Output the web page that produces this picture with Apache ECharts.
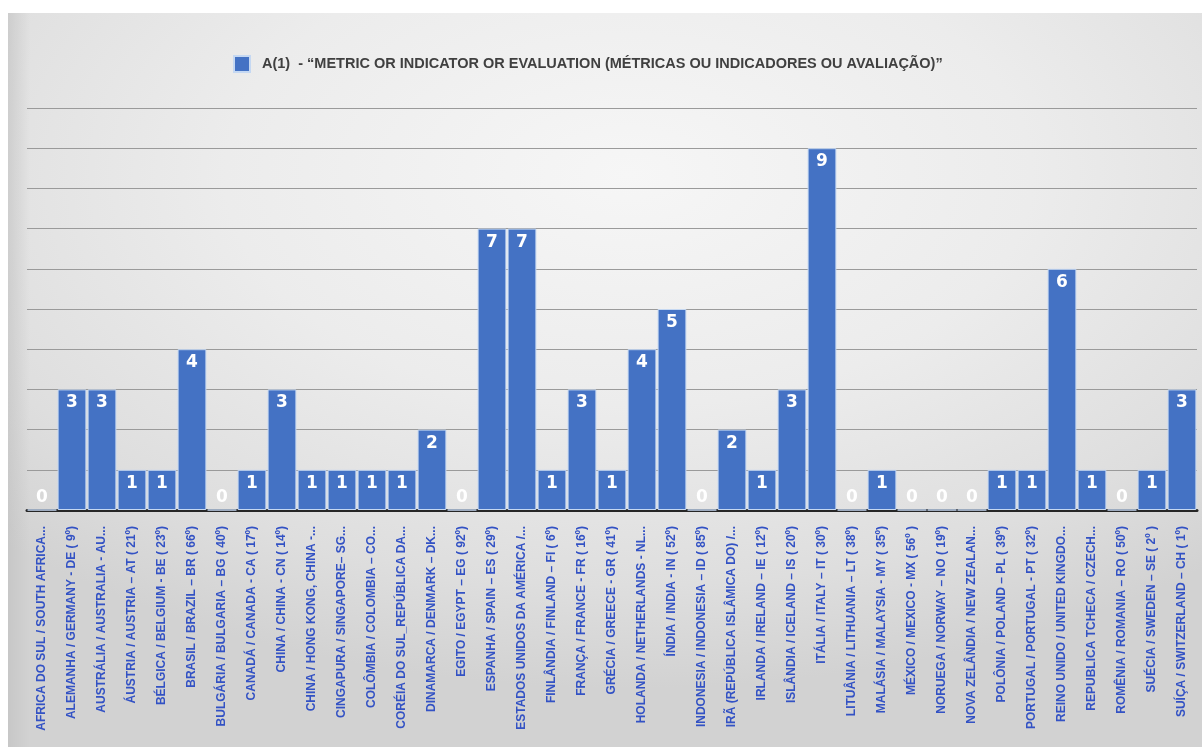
<!DOCTYPE html>
<html>
<head>
<meta charset="utf-8">
<script src="https://cdn.jsdelivr.net/npm/echarts@6/dist/echarts.min.js"></script>
<style>
  html, body { margin: 0; padding: 0; background: #ffffff; width: 1202px; height: 747px; overflow: hidden; }
  #panel {
    position: absolute; left: 8px; top: 13px; width: 1194px; height: 734px;
    background:
      linear-gradient(to right, rgba(190,190,190,0.55) 0px, rgba(190,190,190,0) 22px),
      radial-gradient(ellipse 75% 70% at 52% 22%, #f6f6f6 0%, #ececec 45%, #dedede 80%, #d2d2d2 100%);
  }
  #chart { position: absolute; left: 0; top: 0; width: 1194px; height: 734px; }
</style>
</head>
<body>
<div id="panel"><div id="chart"></div></div>
<script>
// Countries (PT / EN – code, rank) along the category axis
const countries = [
  'AFRICA DO SUL / SOUTH AFRICA...',
  'ALEMANHA / GERMANY - DE ( 9º)',
  'AUSTRÁLIA / AUSTRALIA - AU...',
  'ÁUSTRIA / AUSTRIA – AT ( 21º)',
  'BÉLGICA / BELGIUM - BE ( 23º)',
  'BRASIL / BRAZIL – BR ( 66º)',
  'BULGÁRIA / BULGARIA – BG ( 40º)',
  'CANADÁ / CANADA - CA ( 17º)',
  'CHINA / CHINA - CN ( 14º)',
  'CHINA / HONG KONG, CHINA -...',
  'CINGAPURA / SINGAPORE– SG...',
  'COLÔMBIA / COLOMBIA – CO...',
  'CORÉIA DO SUL_REPÚBLICA DA...',
  'DINAMARCA / DENMARK – DK...',
  'EGITO / EGYPT – EG ( 92º)',
  'ESPANHA / SPAIN – ES ( 29º)',
  'ESTADOS UNIDOS DA AMÉRICA /...',
  'FINLÂNDIA / FINLAND – FI ( 6º)',
  'FRANÇA / FRANCE - FR ( 16º)',
  'GRÉCIA / GREECE - GR ( 41º)',
  'HOLANDA / NETHERLANDS - NL...',
  'ÍNDIA / INDIA - IN ( 52º)',
  'INDONESIA / INDONESIA – ID ( 85º)',
  'IRÃ (REPÚBLICA ISLÂMICA DO) /...',
  'IRLANDA / IRELAND – IE ( 12º)',
  'ISLÂNDIA / ICELAND – IS ( 20º)',
  'ITÁLIA / ITALY – IT ( 30º)',
  'LITUÂNIA / LITHUANIA – LT ( 38º)',
  'MALÁSIA / MALAYSIA - MY ( 35º)',
  'MÉXICO / MEXICO - MX ( 56º )',
  'NORUEGA / NORWAY – NO ( 19º)',
  'NOVA ZELÂNDIA / NEW ZEALAN...',
  'POLÔNIA / POLAND – PL ( 39º)',
  'PORTUGAL / PORTUGAL - PT ( 32º)',
  'REINO UNIDO / UNITED KINGDO...',
  'REPUBLICA TCHECA / CZECH...',
  'ROMÊNIA / ROMANIA – RO ( 50º)',
  'SUÉCIA / SWEDEN – SE ( 2º )',
  'SUÍÇA / SWITZERLAND – CH ( 1º)'
];

// Count of publications per country for the A(1) category
const countsA1 = [
  0, 3, 3, 1, 1, 4, 0, 1, 3, 1,
  1, 1, 1, 2, 0, 7, 7, 1, 3, 1,
  4, 5, 0, 2, 1, 3, 9, 0, 1, 0,
  0, 0, 1, 1, 6, 1, 0, 1, 3
];

const seriesName = 'A(1)  - “METRIC OR INDICATOR OR EVALUATION (MÉTRICAS OU INDICADORES OU AVALIAÇÃO)”';

const yMin = 0, yMax = 10, yStep = 1;

const narrow = '"Liberation Sans Narrow", "Liberation Sans", Arial, sans-serif';

const barData = countsA1.map(v => ({
  value: v,
  label: v === 0
    ? { position: 'insideBottom', distance: 4 }
    : { position: 'insideTop', distance: 5 }
}));

const chart = echarts.init(document.getElementById('chart'), null, { renderer: 'canvas' });
chart.setOption({
  backgroundColor: 'transparent',
  animation: false,
  legend: {
    show: true,
    left: 220,
    top: 37,
    icon: 'rect',
    itemWidth: 16,
    itemHeight: 16,
    itemGap: 10,
    textStyle: { color: '#404040', fontWeight: 'bold', fontSize: 14.5, fontFamily: narrow, padding: [0, 0, 0, 7] }
  },
  grid: { left: 19, right: 5, top: 95, bottom: 237, containLabel: false },
  xAxis: {
    type: 'category',
    data: countries,
    axisLine: { show: true, lineStyle: { color: '#262626', width: 3 } },
    axisTick: { show: false },
    axisLabel: {
      interval: 0,
      rotate: 90,
      margin: 16,
      color: '#3352c4',
      fontWeight: 'bold',
      fontSize: 12,
      fontFamily: narrow
    }
  },
  yAxis: {
    type: 'value',
    min: yMin,
    max: yMax,
    interval: yStep,
    axisLine: { show: false },
    axisTick: { show: false },
    axisLabel: { show: false },
    splitLine: { show: true, lineStyle: { color: '#9a9a9a', width: 1.2 } }
  },
  series: [{
    name: seriesName,
    type: 'bar',
    data: barData,
    barCategoryGap: '4%',
    itemStyle: { color: '#4472c4', borderColor: '#c5d8f2', borderWidth: 1 },
    label: {
      show: true,
      color: '#ffffff',
      fontWeight: 'bold',
      fontSize: 17,
      fontFamily: 'Verdana, "DejaVu Sans", sans-serif'
    }
  }]
});
</script>
</body>
</html>
